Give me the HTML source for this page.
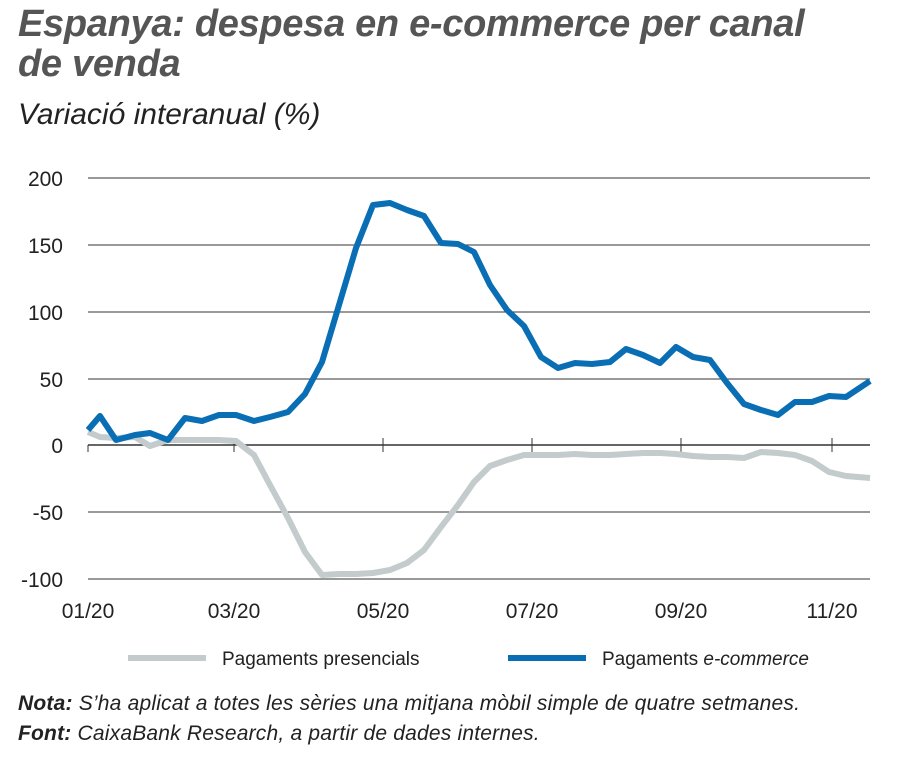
<!DOCTYPE html>
<html><head><meta charset="utf-8"><style>
body{margin:0;background:#fff;width:900px;height:775px;overflow:hidden;font-family:"Liberation Sans",sans-serif;}
.t{position:absolute;left:18px;top:4px;font-size:38px;font-weight:bold;font-style:italic;color:#555;line-height:40px;letter-spacing:-0.3px}
.s{position:absolute;left:18px;top:98px;font-size:30px;font-style:italic;color:#222}
.n{position:absolute;left:18px;font-size:21px;font-style:italic;color:#222;letter-spacing:0.2px}
</style></head><body>
<div class="t">Espanya: despesa en e-commerce per canal<br>de venda</div>
<div class="s">Variació interanual (%)</div>
<svg style="position:absolute;left:0;top:0" width="900" height="775">
<g stroke="#333" stroke-width="1">
<line x1="88" x2="870" y1="178" y2="178"/><line x1="88" x2="870" y1="245" y2="245"/>
<line x1="88" x2="870" y1="312" y2="312"/><line x1="88" x2="870" y1="379" y2="379"/>
<line x1="88" x2="870" y1="512" y2="512"/><line x1="88" x2="870" y1="579" y2="579"/>
<line x1="88" x2="870" y1="445" y2="445" stroke-width="1.5"/>
<line x1="88" x2="88" y1="445" y2="452"/><line x1="234" x2="234" y1="438" y2="452"/>
<line x1="383" x2="383" y1="438" y2="452"/><line x1="532" x2="532" y1="438" y2="452"/>
<line x1="681" x2="681" y1="438" y2="452"/><line x1="832" x2="832" y1="438" y2="452"/>
</g>
<g font-size="21" fill="#222" text-anchor="end">
<text x="63" y="186">200</text><text x="63" y="253">150</text><text x="63" y="320">100</text>
<text x="63" y="387">50</text><text x="63" y="453">0</text><text x="63" y="520">-50</text><text x="63" y="587">-100</text>
</g>
<g font-size="21" fill="#222" text-anchor="middle">
<text x="88" y="618">01/20</text><text x="234" y="618">03/20</text><text x="383" y="618">05/20</text>
<text x="532" y="618">07/20</text><text x="681" y="618">09/20</text><text x="832" y="618">11/20</text>
</g>
<polyline fill="none" stroke="#c3cbcd" stroke-width="6" stroke-linejoin="round" points="88,432 100,437 116,438 135,437 150,446 168,440 185,440 202,440 219,440 236,441 254,455 270,485 288,518 305,552 322,575 339,574 356,574 373,573 390,570 407,563 424,550 441,527 458,505 474,482 490,466 507,460 524,455 541,455 558,455 575,454 592,455 610,455 626,454 643,453 660,453 676,454 693,456 710,457 727,457 744,458 761,452 778,453 795,455 812,461 829,472 846,476 870,478"/>
<polyline fill="none" stroke="#0a6eb4" stroke-width="6" stroke-linejoin="round" points="88,430 100,416 116,440 135,435 150,433 168,440 185,418 202,421 219,415 236,415 254,421 270,417 288,412 305,394 322,362 339,305 356,248 373,205 390,203 407,210 424,216 441,243 458,244 474,252 490,285 507,310 524,326 541,357 558,368 575,363 592,364 610,362 626,349 643,355 660,363 676,347 693,357 710,360 727,383 744,404 761,410 778,415 795,402 812,402 829,396 846,397 870,381"/>
<line x1="128" x2="206" y1="658" y2="658" stroke="#c3cbcd" stroke-width="6"/>
<text x="222" y="665" font-size="19" fill="#222">Pagaments presencials</text>
<line x1="508" x2="586" y1="658" y2="658" stroke="#0a6eb4" stroke-width="6"/>
<text x="602" y="665" font-size="19" fill="#222">Pagaments <tspan font-style="italic">e-commerce</tspan></text>
</svg>
<div class="n" style="top:692px"><b>Nota:</b> S’ha aplicat a totes les sèries una mitjana mòbil simple de quatre setmanes.</div>
<div class="n" style="top:722px"><b>Font:</b> CaixaBank Research, a partir de dades internes.</div>
</body></html>
